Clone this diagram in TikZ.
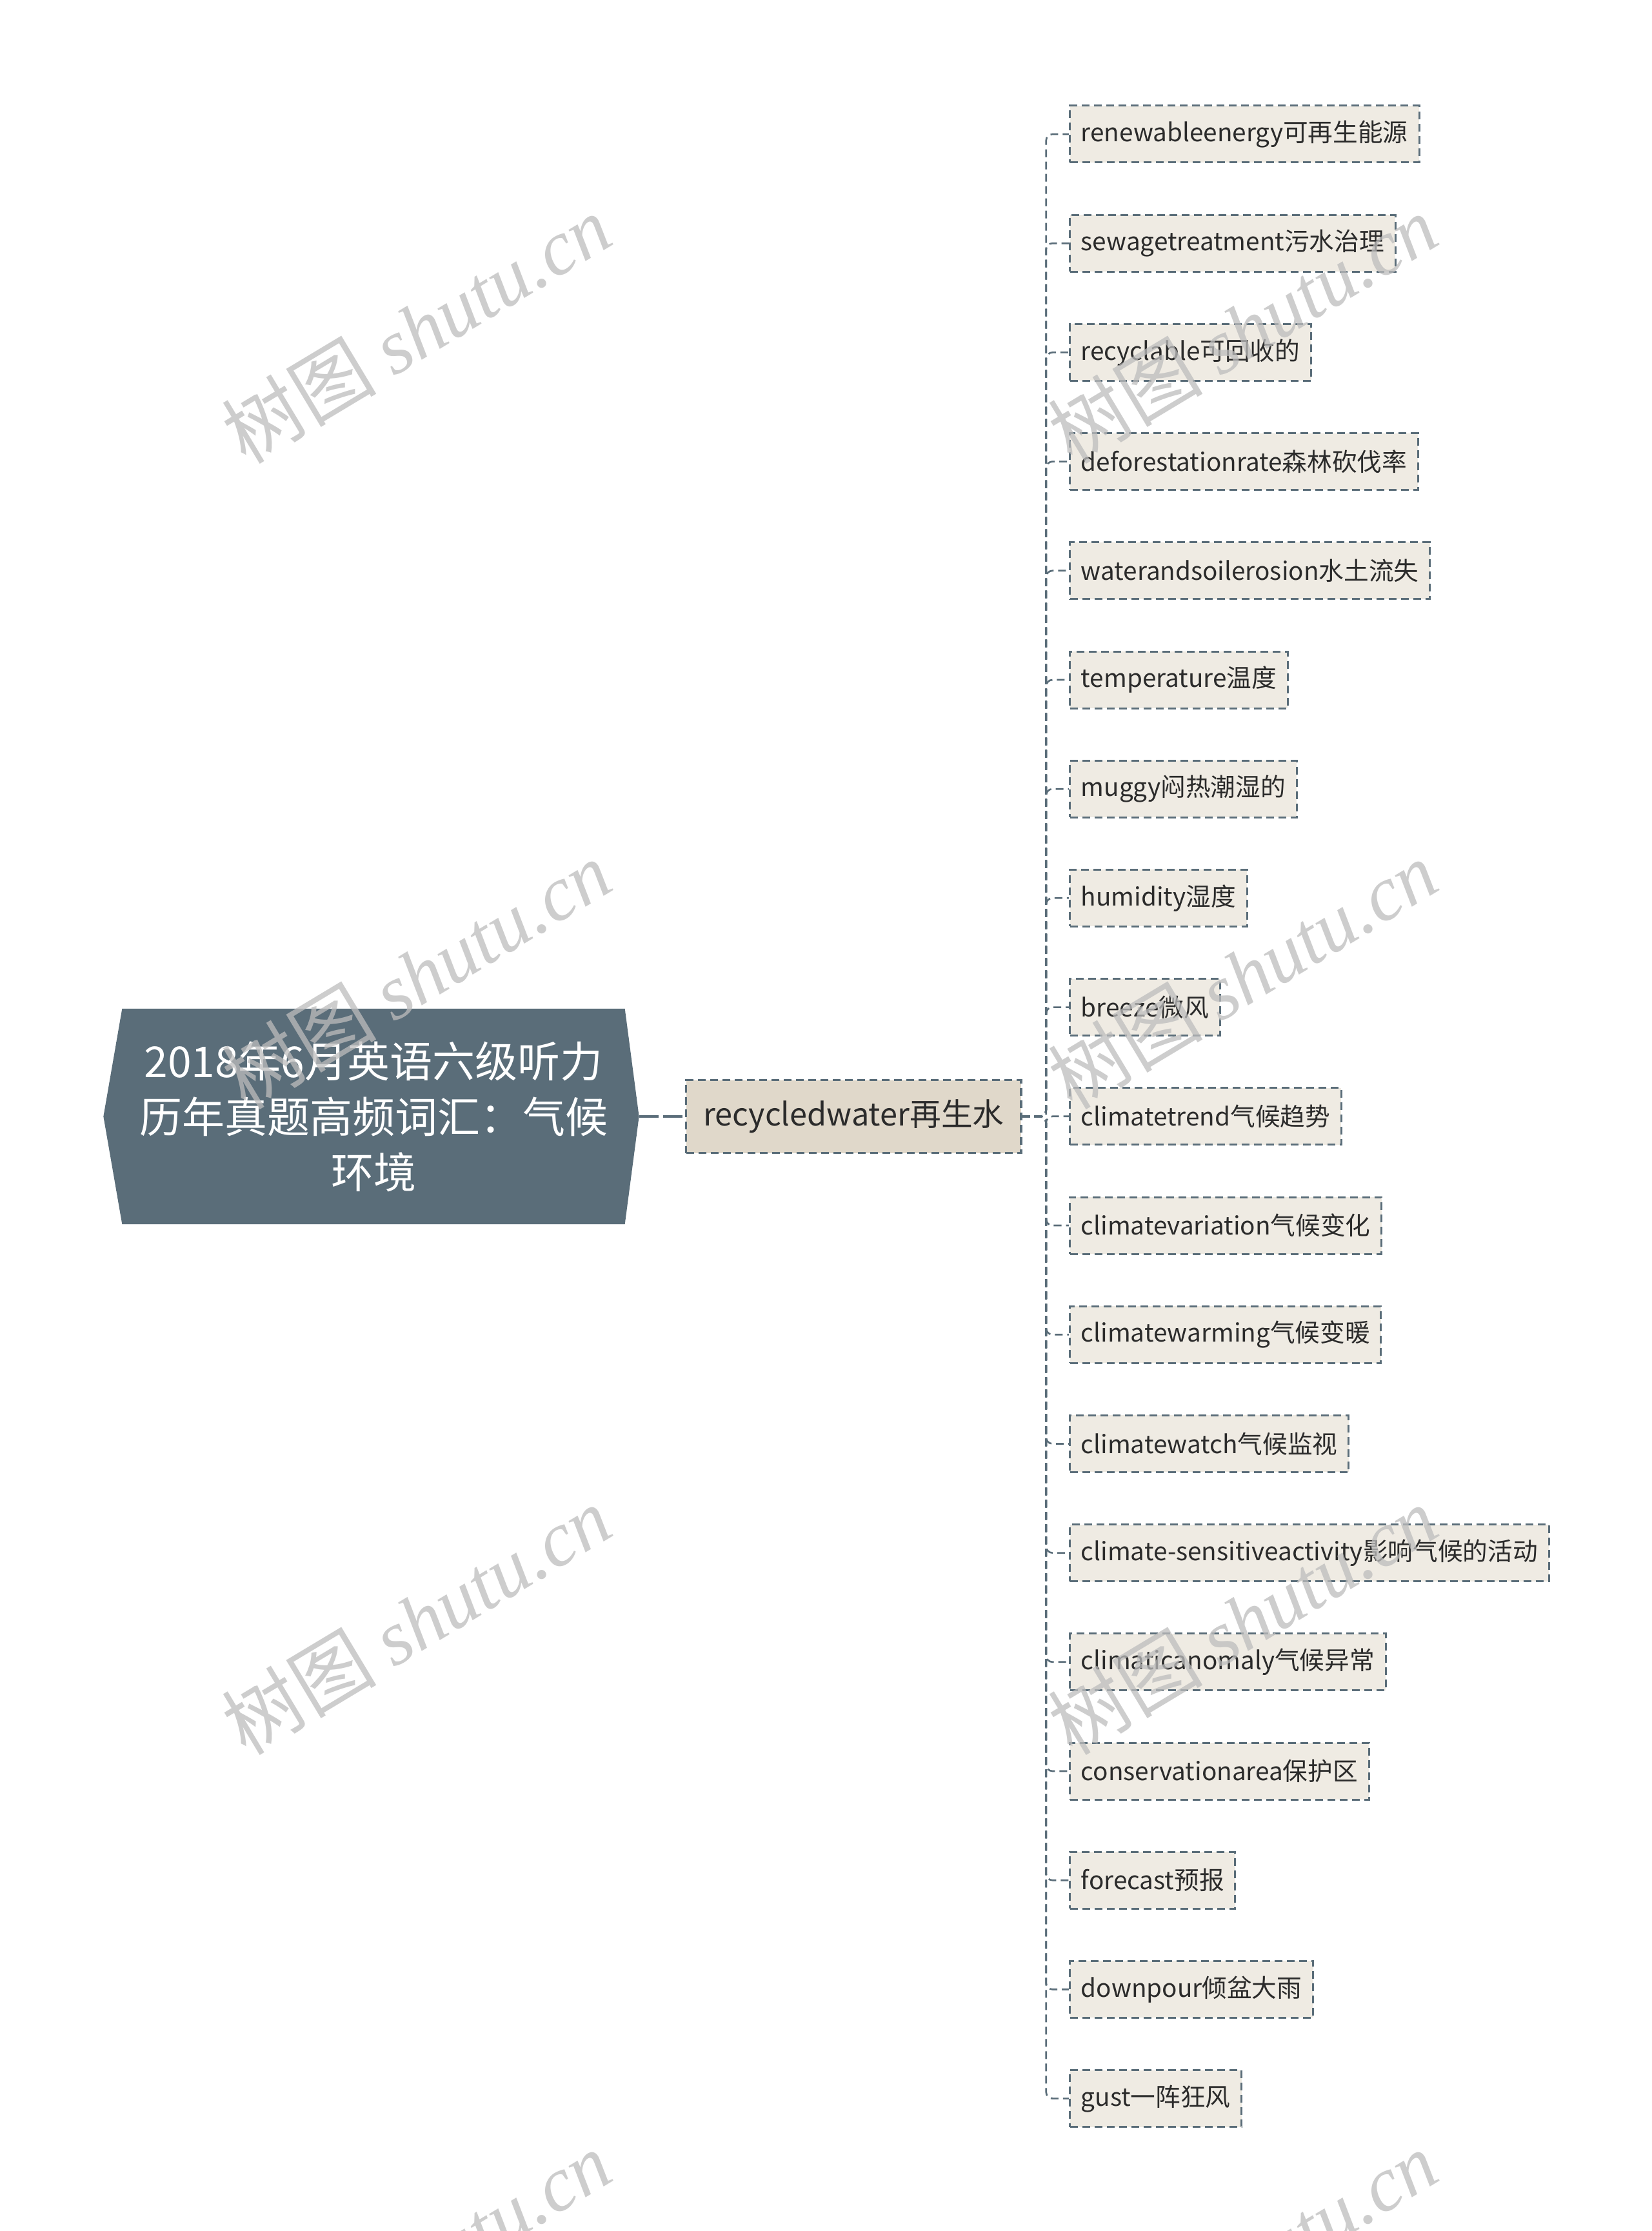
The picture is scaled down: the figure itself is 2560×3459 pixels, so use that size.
\documentclass[tikz,border=0pt]{standalone}
\usepackage{fontspec}
\setmainfont{Noto Sans CJK SC}
\newfontfamily\wmlatin{Liberation Serif}
\usetikzlibrary{positioning, calc, backgrounds}

\definecolor{rootfill}{HTML}{5A6D79}
\definecolor{childfill}{HTML}{E0D8CA}
\definecolor{leaffill}{HTML}{EFEBE3}
\definecolor{edgecol}{HTML}{5A6D79}
\definecolor{txtcol}{HTML}{2B2B2B}
\definecolor{wmcol}{HTML}{BDBDBD}

\tikzset{
  rootbox/.style={minimum width=233.4pt, minimum height=99.9pt, inner sep=0pt,
    align=center, text=white, font=\fontsize{19.8pt}{25.8pt}\selectfont},
  childbox/.style={draw=edgecol, fill=childfill, line width=1pt, dash pattern=on 3.6pt off 2.1pt,
    minimum height=33.9pt, inner xsep=8pt, text=txtcol, font=\fontsize{14.6pt}{17pt}\selectfont},
  leafbox/.style={draw=edgecol, fill=leaffill, line width=0.9pt, dash pattern=on 3.6pt off 2.1pt,
    minimum height=26.4pt, inner xsep=5.2pt, text=txtcol, font=\fontsize{11.6pt}{14pt}\selectfont},
  rootlink/.style={draw=edgecol, line width=1.2pt, dash pattern=on 9pt off 2.1pt},
  leaflink/.style={draw=edgecol, line width=0.8pt, dash pattern=on 3.6pt off 2.1pt, rounded corners=3pt},
  wmark/.style={text=wmcol, opacity=0.75, rotate=31, font=\fontsize{36pt}{36pt}\selectfont}
}

\begin{document}
\begin{tikzpicture}[x=0.3pt,y=-0.3pt]
\useasboundingbox (0,0) rectangle (2560,3459);
% root topic
\node[rootbox] (root) at (579,1731) {2018年6月英语六级听力\\历年真题高频词汇：气候\\环境};
\begin{scope}[on background layer]
\fill[white] (0,0) rectangle (2560,3459);
\fill[rootfill] (root.north west) -- (root.north east) -- ([xshift=6.6pt]root.east)
  -- (root.south east) -- (root.south west) -- ([xshift=-8.7pt]root.west) -- cycle;
\end{scope}
% main branch
\node[childbox, anchor=west] (child) at (1062,1731) {recycledwater再生水};
\draw[rootlink] ([xshift=6.6pt]root.east) -- (child.west);
% leaves
\foreach \word [count=\i] in {renewableenergy可再生能源, sewagetreatment污水治理, recyclable可回收的,
  deforestationrate森林砍伐率, waterandsoilerosion水土流失, temperature温度, muggy闷热潮湿的,
  humidity湿度, breeze微风, climatetrend气候趋势, climatevariation气候变化, climatewarming气候变暖,
  climatewatch气候监视, climate-sensitiveactivity影响气候的活动, climaticanomaly气候异常,
  conservationarea保护区, forecast预报, downpour倾盆大雨, gust一阵狂风} {
  \node[leafbox, anchor=west] (leaf\i) at (1657,{208+(\i-1)*169.2}) {\word};
  \draw[leaflink] (child.east) -- ++(37,0) |- (leaf\i.west);
}
% watermark
\foreach \wx in {645,1926} {
  \foreach \wy in {510,1511,2512,3512} {
    \node[wmark] (wm\wx\wy) at (\wx,\wy) {树图 {\wmlatin\itshape shutu.cn}};
  }
}
\end{tikzpicture}
\end{document}
